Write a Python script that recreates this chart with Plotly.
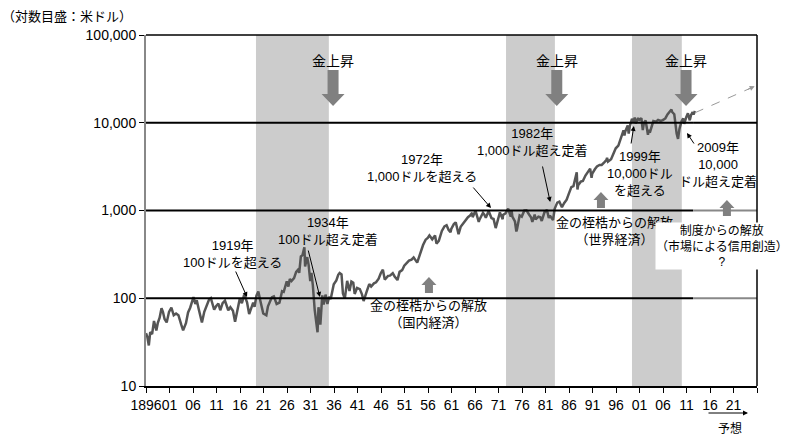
import math
import plotly.graph_objects as go

# Dow Jones Industrial Average, US dollars (log scale)
dow_year = [
    1896.0, 1896.3, 1896.6, 1896.9, 1897.3, 1897.7, 1898.2, 1898.5, 1898.9, 1899.3,
    1899.6, 1899.95, 1900.4, 1900.9, 1901.4, 1901.9, 1902.4, 1902.9, 1903.5, 1903.9,
    1904.5, 1904.95, 1905.4, 1905.95, 1906.1, 1906.5, 1906.8, 1907.2, 1907.9, 1908.4,
    1908.95, 1909.4, 1909.8, 1910.5, 1910.9, 1911.4, 1911.8, 1912.3, 1912.8, 1913.5,
    1913.95, 1914.5, 1914.95, 1915.5, 1915.95, 1916.4, 1916.9, 1917.5, 1917.95, 1918.8,
    1919.1, 1919.5, 1919.9, 1920.3, 1920.95, 1921.6, 1921.95, 1922.5, 1922.8, 1923.2,
    1923.8, 1924.4, 1924.95, 1925.3, 1925.95, 1926.3, 1926.6, 1926.95, 1927.5, 1927.95,
    1928.3, 1928.6, 1928.95, 1929.3, 1929.7, 1929.85, 1930.3, 1930.6, 1930.95, 1931.2,
    1931.5, 1931.9, 1932.5, 1932.7, 1933.1, 1933.5, 1933.8, 1934.2, 1934.6, 1934.95,
    1935.3, 1935.95, 1936.5, 1936.9, 1937.2, 1937.6, 1937.9, 1938.3, 1938.8, 1939.3,
    1939.7, 1940.1, 1940.4, 1940.9, 1941.5, 1941.95, 1942.3, 1942.95, 1943.5, 1943.9,
    1944.5, 1944.95, 1945.5, 1945.95, 1946.4, 1946.8, 1947.5, 1947.9, 1948.5, 1948.9,
    1949.5, 1949.95, 1950.5, 1950.95, 1951.5, 1951.95, 1952.5, 1952.95, 1953.7, 1953.95,
    1954.5, 1954.95, 1955.5, 1955.95, 1956.3, 1956.9, 1957.5, 1957.8, 1958.3, 1958.95,
    1959.5, 1959.95, 1960.4, 1960.8, 1960.95, 1961.5, 1961.9, 1962.5, 1962.95, 1963.5,
    1963.95, 1964.5, 1964.95, 1965.4, 1965.5, 1965.95, 1966.1, 1966.8, 1966.95, 1967.7,
    1967.95, 1968.3, 1968.9, 1969.5, 1969.95, 1970.4, 1970.95, 1971.3, 1971.9, 1971.95,
    1972.5, 1972.95, 1973.05, 1973.6, 1973.8, 1973.95, 1974.5, 1974.8, 1974.95, 1975.5,
    1975.95, 1976.5, 1976.95, 1977.5, 1977.95, 1978.2, 1978.7, 1978.9, 1979.5, 1979.9,
    1980.2, 1980.9, 1980.95, 1981.3, 1981.7, 1981.95, 1982.6, 1982.95, 1983.5, 1983.95,
    1984.5, 1984.95, 1985.5, 1985.95, 1986.5, 1986.95, 1987.65, 1987.8, 1987.95, 1988.5,
    1988.95, 1989.5, 1989.95, 1990.5, 1990.8, 1990.95, 1991.5, 1991.95, 1992.5, 1992.95,
    1993.5, 1993.95, 1994.1, 1994.3, 1994.95, 1995.5, 1995.95, 1996.5, 1996.95, 1997.6,
    1997.8, 1997.95, 1998.5, 1998.7, 1998.95, 1999.4, 1999.8, 1999.98, 2000.2, 2000.7,
    2000.95, 2001.4, 2001.7, 2001.95, 2002.3, 2002.8, 2002.95, 2003.2, 2003.95, 2004.5,
    2004.95, 2005.5, 2005.95, 2006.5, 2006.95, 2007.8, 2007.95, 2008.4, 2008.9, 2009.2,
    2009.5, 2009.95, 2010.3, 2010.5, 2010.95, 2011.3, 2011.7, 2011.95, 2012.3, 2012.5,
    2012.8,
]
dow_value = [
    40, 36, 29, 41, 39, 55, 43, 52, 60, 77,
    70, 58, 53, 70, 78, 64, 67, 64, 50, 43,
    52, 69, 78, 96, 103, 86, 95, 76, 53, 70,
    86, 96, 100, 74, 81, 87, 73, 88, 94, 73,
    79, 72, 54, 75, 99, 88, 110, 90, 66, 89,
    80, 107, 119, 95, 67, 64, 81, 95, 103, 105,
    86, 89, 120, 118, 156, 136, 166, 157, 170, 200,
    210, 195, 300, 310, 381, 230, 294, 240, 157, 194,
    140, 73, 41, 79, 50, 108, 85, 110, 86, 104,
    98, 144, 160, 185, 194, 187, 113, 99, 158, 121,
    155, 150, 112, 131, 127, 111, 93, 119, 145, 136,
    148, 152, 167, 193, 212, 163, 180, 181, 193, 177,
    161, 200, 209, 235, 255, 269, 275, 292, 255, 281,
    335, 404, 465, 488, 521, 470, 520, 420, 450, 584,
    660, 679, 600, 566, 616, 700, 734, 536, 652, 715,
    763, 840, 874, 940, 840, 969, 995, 744, 786, 943,
    905, 825, 985, 820, 800, 631, 839, 950, 797, 890,
    930, 1020, 1052, 850, 987, 851, 750, 577, 616, 880,
    852, 1000, 1005, 900, 831, 742, 900, 790, 850, 839,
    760, 1000, 964, 1020, 820, 875, 777, 1047, 1230, 1259,
    1090, 1212, 1330, 1547, 1850, 1896, 2722, 1738, 1939, 2130,
    2169, 2500, 2753, 2999, 2365, 2634, 2950, 3169, 3300, 3301,
    3530, 3754, 3978, 3600, 3834, 4550, 5117, 5500, 6448, 8200,
    7160, 7908, 9300, 7539, 9181, 11100, 10200, 11497, 9800, 11300,
    10787, 11300, 8236, 10021, 10600, 7286, 8342, 7700, 10454, 10300,
    10783, 10500, 10718, 11200, 12463, 14165, 13265, 12500, 7552, 6547,
    8500, 10428, 11200, 9700, 11578, 12800, 10655, 12218, 13200, 12400,
    13600,
]

# shaded periods of rising gold prices (start year, end year)
gold_periods = [(1919.4, 1934.9), (1972.6, 1983.0), (1999.4, 2010.0)]
gold_arrow_years = [1935.8, 1983.4, 2010.9]
gold_label = "金上昇"

threshold_levels = [100, 1000, 10000]
forecast_from = 2012.4
forecast_start = (2012.8, 13000)
forecast_end = (2025.5, 26000)

x_tick_years = list(range(1896, 2027, 5))
x_tick_text = ["1896"] + [f"{y % 100:02d}" for y in x_tick_years[1:-1]] + [""]
y_tick_vals = [10, 100, 1000, 10000, 100000]
y_tick_text = ["10", "100", "1,000", "10,000", "100,000"]

FONT = "Liberation Sans, Arial, 'Noto Sans CJK JP', sans-serif"
X0, X1 = 1896, 2026
PX_PER_YEAR = 611 / (X1 - X0)
PLOT_H = 351


def pap(px_from_bottom):
    return px_from_bottom / PLOT_H


def down_arrow(xc, top, base, tip, hs, hh):
    return (f"M {xc-hs},{top} L {xc+hs},{top} L {xc+hs},{base} L {xc+hh},{base} "
            f"L {xc},{tip} L {xc-hh},{base} L {xc-hs},{base} Z")


fig = go.Figure()
fig.add_trace(go.Scatter(
    x=dow_year, y=dow_value, mode="lines",
    line=dict(color="#555555", width=2.5),
    showlegend=False, hoverinfo="skip",
))

shapes = []
for a, b in gold_periods:
    shapes.append(dict(type="rect", xref="x", yref="paper", x0=a, x1=b, y0=0, y1=1,
                       fillcolor="#cccccc", line=dict(width=0), layer="below"))

for lvl in threshold_levels:
    shapes.append(dict(type="line", xref="x", yref="y", x0=X0, x1=forecast_from,
                       y0=lvl, y1=lvl, line=dict(color="black", width=2)))
    shapes.append(dict(type="line", xref="x", yref="y", x0=forecast_from, x1=X1,
                       y0=lvl, y1=lvl,
                       line=dict(color="black" if lvl == 10000 else "#888888", width=2)))

# frame: top and right edges
shapes.append(dict(type="line", xref="paper", yref="paper", x0=0, x1=1, y0=1, y1=1,
                   line=dict(color="black", width=1.5)))
shapes.append(dict(type="line", xref="paper", yref="paper", x0=1, x1=1, y0=0, y1=1,
                   line=dict(color="black", width=1.5)))

# thick grey "gold rising" arrows
hs, hh = 5.5 / PX_PER_YEAR, 11.5 / PX_PER_YEAR
for xc in gold_arrow_years:
    shapes.append(dict(type="path", xref="x", yref="paper",
                       path=down_arrow(xc, pap(316), pap(292), pap(280), hs, hh),
                       fillcolor="#808080", line=dict(width=0)))

# small grey up arrows
us, uh = 4 / PX_PER_YEAR, 7.5 / PX_PER_YEAR
for xc, tip_px in [(1956.2, 109), (1992.8, 194), (2019.6, 186)]:
    shapes.append(dict(type="path", xref="x", yref="paper",
                       path=down_arrow(xc, pap(tip_px - 16), pap(tip_px - 8), pap(tip_px), us, uh),
                       fillcolor="#808080", line=dict(width=0)))

# dashed forecast line
shapes.append(dict(type="line", xref="x", yref="y",
                   x0=forecast_start[0], y0=forecast_start[1],
                   x1=forecast_end[0], y1=forecast_end[1],
                   line=dict(color="#999999", width=1, dash="dash")))

annotations = []


def text_ann(x, yval, text, size=13, **kw):
    annotations.append(dict(x=x, y=math.log10(yval), xref="x", yref="y", text=text,
                            showarrow=False, font=dict(family=FONT, size=size, color="black"),
                            xanchor="center", yanchor="middle", **kw))


def arrow_ann(x, yval, ax, ay, color="black"):
    annotations.append(dict(x=x, y=math.log10(yval), xref="x", yref="y", text="",
                            showarrow=True, ax=ax, ay=ay, arrowhead=2, arrowsize=1,
                            arrowwidth=1, arrowcolor=color, standoff=0))


for xc in gold_arrow_years:
    text_ann(xc, 10 ** 4.704, gold_label, size=14)

text_ann(1914.5, 10 ** 2.51, "1919年<br>100ドルを超える")
arrow_ann(1917.5, 10 ** 2.014, -12, -27)
text_ann(1934.7, 10 ** 2.772, "1934年<br>100ドル超え定着")
arrow_ann(1933.0, 10 ** 2.014, -12, -48)
text_ann(1954.7, 10 ** 3.49, "1972年<br>1,000ドルを超える")
arrow_ann(1969.4, 10 ** 3.028, -19, -22)
text_ann(1978.3, 10 ** 3.78, "1982年<br>1,000ドル超え定着")
arrow_ann(1982.0, 10 ** 3.097, -8, -37)
text_ann(2001.1, 10 ** 3.427, "1999年<br>10,000ドル<br>を超える")
arrow_ann(1999.8, 10 ** 3.963, -3, 19)
text_ann(2017.7, 10 ** 3.519, "2009年<br>10,000<br>ドル超え定着")
arrow_ann(2011.1, 10 ** 3.883, 8, 12)

text_ann(1956.0, 10 ** 1.815, "金の桎梏からの解放<br>（国内経済）")
text_ann(1995.6, 10 ** 2.772, "金の桎梏からの解放<br>（世界経済）")
text_ann(2018.6, 10 ** 2.59, "制度からの解放<br>（市場による信用創造）<br>?",
         size=12, bgcolor="white", borderpad=0)

arrow_ann(forecast_end[0], forecast_end[1], -9, 4, color="#999999")

annotations.append(dict(x=-146 / 611, y=pap(369), xref="paper", yref="paper",
                        text="（対数目盛：米ドル）", showarrow=False,
                        font=dict(family=FONT, size=13, color="black"),
                        xanchor="left", yanchor="middle"))
annotations.append(dict(x=(730 - 146) / 611, y=pap(-42), xref="paper", yref="paper",
                        text="予想", showarrow=False,
                        font=dict(family=FONT, size=12, color="black"),
                        xanchor="center", yanchor="middle"))
annotations.append(dict(x=(748 - 146) / 611, y=pap(-27), xref="paper", yref="paper",
                        text="", showarrow=True, ax=-41, ay=0, arrowhead=2,
                        arrowsize=1, arrowwidth=1, arrowcolor="black", standoff=0))

fig.update_layout(
    width=791, height=436, autosize=False,
    margin=dict(l=146, r=34, t=35, b=50, pad=0),
    paper_bgcolor="white", plot_bgcolor="white",
    font=dict(family=FONT, size=14, color="black"),
    xaxis=dict(range=[X0, X1], tickvals=x_tick_years, ticktext=x_tick_text,
               tickangle=0, automargin=False,
               showgrid=False, zeroline=False, showline=True, linecolor="black",
               linewidth=1.5, ticks="outside", ticklen=5, tickcolor="black",
               tickfont=dict(size=14)),
    yaxis=dict(type="log", range=[1, 5], tickvals=y_tick_vals, ticktext=y_tick_text,
               automargin=False,
               showgrid=False, zeroline=False, showline=True, linecolor="#888888",
               linewidth=2, ticks="outside", ticklen=5, tickcolor="black",
               tickfont=dict(size=14)),
    shapes=shapes,
    annotations=annotations,
    showlegend=False,
)

fig.write_html("out.html")
